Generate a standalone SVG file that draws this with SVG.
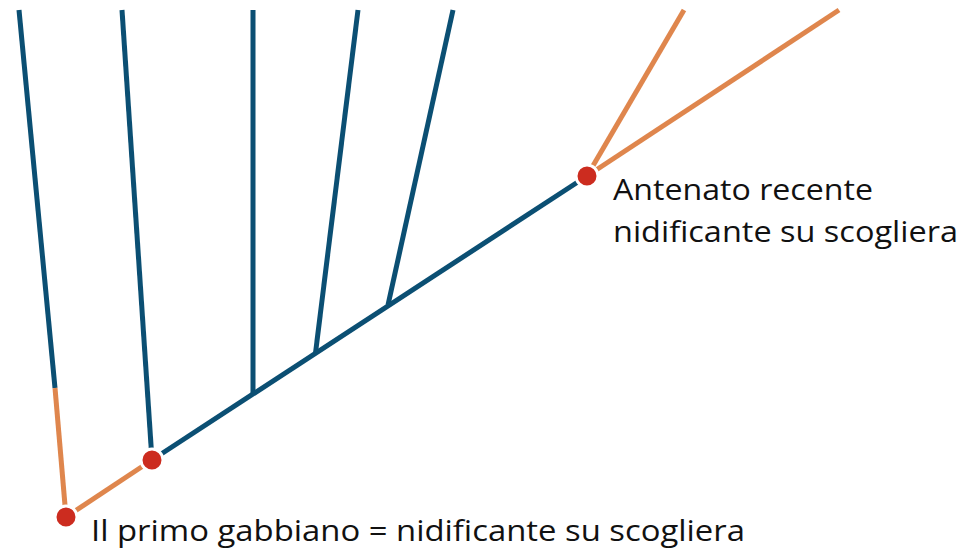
<svg xmlns="http://www.w3.org/2000/svg" width="965" height="552" viewBox="0 0 965 552">
<style>
.b{stroke:#0b4f73;stroke-width:5;fill:none;stroke-linecap:butt}
.o{stroke:#df864d;stroke-width:5;fill:none;stroke-linecap:butt}
.n{fill:#cc2c1f;stroke:#ffffff;stroke-width:3}
.t{font-family:"Open Sans","Noto Sans",sans-serif;font-size:30px;fill:#111111}
</style>
<rect width="965" height="552" fill="#ffffff"/>
<g id="connectors">
<line class="b" x1="19" y1="10" x2="55" y2="388"/>
<line class="o" x1="55" y1="388" x2="66" y2="517"/>
<line class="b" x1="122" y1="10" x2="152" y2="460"/>
<line class="b" x1="253" y1="10" x2="253" y2="395"/>
<line class="b" x1="358" y1="10" x2="315.5" y2="353"/>
<line class="b" x1="453" y1="10" x2="388" y2="305"/>
<line class="o" x1="66" y1="517" x2="152" y2="460"/>
<line class="b" x1="152" y1="460" x2="587" y2="176"/>
<line class="o" x1="587" y1="176" x2="684" y2="10"/>
<line class="o" x1="587" y1="176" x2="839" y2="10"/>
</g>
<g id="node-first">
<circle class="n" cx="66" cy="517" r="11"/>
<text class="t" x="91" y="541" textLength="654" lengthAdjust="spacingAndGlyphs">Il primo gabbiano = nidificante su scogliera</text>
</g>
<g id="node-middle">
<circle class="n" cx="152" cy="460" r="11"/>
</g>
<g id="node-recent">
<circle class="n" cx="587" cy="176" r="11"/>
<text class="t" x="613" y="200" textLength="260" lengthAdjust="spacingAndGlyphs">Antenato recente</text>
<text class="t" x="613" y="242" textLength="345" lengthAdjust="spacingAndGlyphs">nidificante su scogliera</text>
</g>
</svg>
